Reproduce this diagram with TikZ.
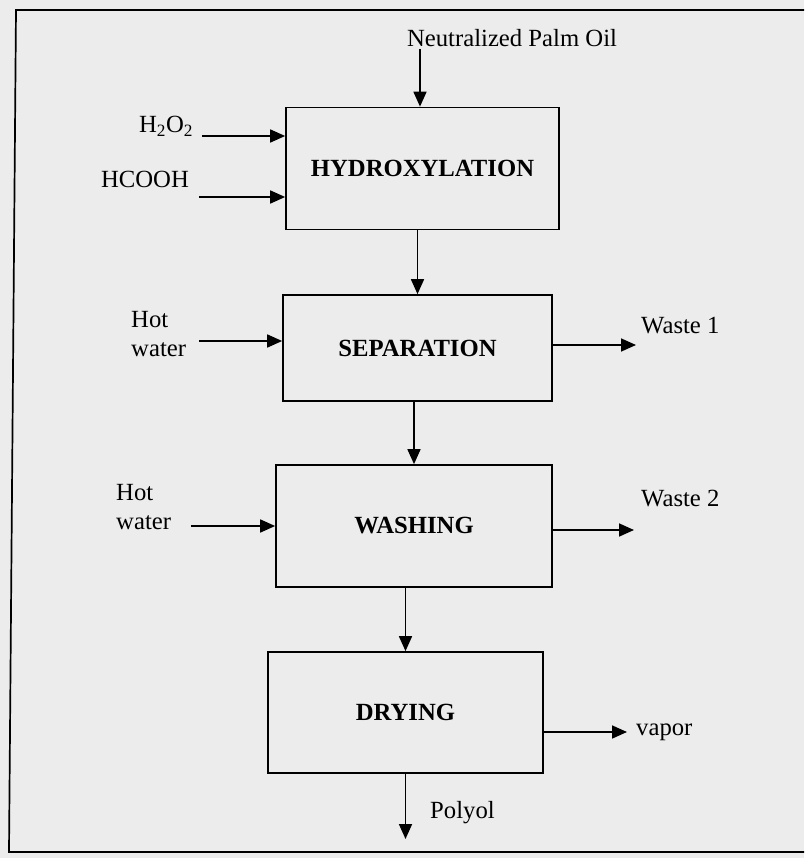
\documentclass[tikz,border=0pt]{standalone}
\usepackage{fontspec}
\setmainfont{Liberation Serif}
\usetikzlibrary{arrows.meta}
\definecolor{paper}{RGB}{236,236,236}
\newcommand\flowfont{\fontsize{24.7}{28.5}\selectfont}
\tikzset{
  unit/.style={draw,line width=1.7pt,inner sep=0pt,font=\flowfont\bfseries},
  flow/.style={-{Triangle[length=15pt,width=13pt]},line width=1.7pt},
}
\begin{document}
\begin{tikzpicture}[x=1pt,y=-1pt,
    every node/.style={font=\flowfont,inner sep=1pt}]
  % page and frame
  \fill[paper] (0,0) rectangle (804,858);
  \draw[line width=1.7pt] (804,10) -- (16,10) -- (9,852) -- (804,852);
  % process units
  \node[unit,minimum width=273pt,minimum height=122pt] (hyd) at (422.5,168.5) {HYDROXYLATION};
  \node[unit,minimum width=269pt,minimum height=106pt] (sep) at (417.5,348) {SEPARATION};
  \node[unit,minimum width=276pt,minimum height=122pt] (wash) at (414,526) {WASHING};
  \node[unit,minimum width=275pt,minimum height=121pt] (dry) at (405.5,712.5) {DRYING};
  % streams
  \node (oil) at (512,38) {Neutralized Palm Oil};
  \node (h2o2) at (166,126) {H\textsubscript{2}O\textsubscript{2}};
  \node (hcooh) at (145,179) {HCOOH};
  \node[align=left,anchor=west] (hw1) at (130,334) {Hot\\water};
  \node[align=left,anchor=west] (hw2) at (115,507) {Hot\\water};
  \node[anchor=west] (w1) at (640,326) {Waste 1};
  \node[anchor=west] (w2) at (640,499) {Waste 2};
  \node[anchor=west] (vap) at (635,732) {vapor};
  \node[anchor=west] (pol) at (429,813) {Polyol};
  \coordinate (oil end) at (420,49);
  \coordinate (h2o2 end) at (202,136);
  \coordinate (hcooh end) at (199,197);
  \coordinate (hw1 end) at (199,341);
  \coordinate (hw2 end) at (191,526);
  \coordinate (w1 tip) at (636,345);
  \coordinate (w2 tip) at (634,530);
  \coordinate (vap tip) at (627,732);
  \coordinate (pol tip) at (405.5,839);
  \begin{scope}[flow]
    \draw (oil end) -- (oil end |- hyd.north);
    \draw (h2o2 end) -- (h2o2 end -| hyd.west);
    \draw (hcooh end) -- (hcooh end -| hyd.west);
    \draw (sep.north |- hyd.south) -- (sep.north);
    \draw (hw1 end) -- (hw1 end -| sep.west);
    \draw (w1 tip -| sep.east) -- (w1 tip);
    \draw (wash.north |- sep.south) -- (wash.north);
    \draw (hw2 end) -- (hw2 end -| wash.west);
    \draw (w2 tip -| wash.east) -- (w2 tip);
    \draw (dry.north |- wash.south) -- (dry.north);
    \draw (vap tip -| dry.east) -- (vap tip);
    \draw (dry.south) -- (pol tip);
  \end{scope}
\end{tikzpicture}
\end{document}
